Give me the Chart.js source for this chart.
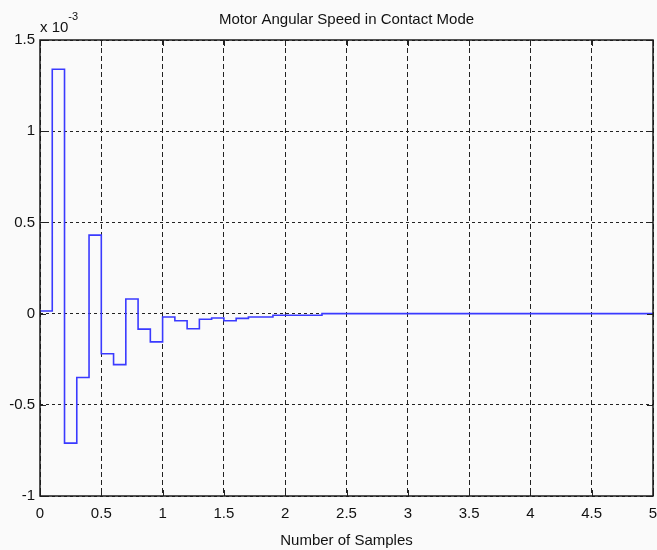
<!DOCTYPE html>
<html>
<head>
<meta charset="utf-8">
<title>Motor Angular Speed in Contact Mode</title>
<script src="https://cdn.jsdelivr.net/npm/chart.js@4.4.1/dist/chart.umd.min.js"></script>
<style>
  body { margin: 0; background: #fafafa; }
  #wrap { width: 657px; height: 550px; position: relative; }
</style>
</head>
<body>
<div id="wrap"><canvas id="myChart"></canvas></div>
<script>
// sample instants (s) and motor angular speed (x 10^-3), held as stairs
const sampleTimes = [0, 0.1, 0.2, 0.3, 0.4, 0.5, 0.6, 0.7, 0.8, 0.9,
                     1.0, 1.1, 1.2, 1.3, 1.4, 1.5, 1.6, 1.7, 1.8, 1.9,
                     2.0, 2.1, 2.2, 2.3, 5.0];
const angularSpeed = [0.014, 1.34, -0.71, -0.35, 0.43, -0.22, -0.28, 0.08, -0.085, -0.155,
                      -0.019, -0.039, -0.083, -0.031, -0.024, -0.039, -0.026, -0.019, -0.019, -0.009,
                      -0.009, -0.009, -0.009, 0, 0];
const xTicks = [0, 0.5, 1, 1.5, 2, 2.5, 3, 3.5, 4, 4.5, 5];
const yTicks = [-1, -0.5, 0, 0.5, 1, 1.5];

const fontFamily = '"Liberation Sans Narrow", "Arial Narrow", "Liberation Sans", Arial, sans-serif';
Chart.defaults.font.family = fontFamily;
Chart.defaults.font.size = 15;
Chart.defaults.color = '#111';

// box around the axes, inward tick marks and the exponent label
const matlabAxes = {
    id: 'matlabAxes',
    afterDraw(chart) {
        const ctx = chart.ctx;
        const a = chart.chartArea;
        const xs = chart.scales.x;
        const ys = chart.scales.y;
        ctx.save();
        ctx.strokeStyle = '#222';
        ctx.lineWidth = 1;
        ctx.beginPath();
        for (let v of xTicks) {
            let px = Math.round(xs.getPixelForValue(v)) + 0.5;
            ctx.moveTo(px, a.bottom); ctx.lineTo(px, a.bottom - 6);
            ctx.moveTo(px, a.top); ctx.lineTo(px, a.top + 6);
        }
        for (let v of yTicks) {
            let py = Math.round(ys.getPixelForValue(v)) + 0.5;
            ctx.moveTo(a.left, py); ctx.lineTo(a.left + 6, py);
            ctx.moveTo(a.right, py); ctx.lineTo(a.right - 6, py);
        }
        ctx.stroke();
        ctx.lineWidth = 1.5;
        ctx.strokeStyle = '#1a1a1a';
        ctx.strokeRect(a.left, a.top, a.right - a.left, a.bottom - a.top);

        ctx.fillStyle = '#111';
        ctx.textBaseline = 'alphabetic';
        ctx.textAlign = 'left';
        ctx.font = '15px ' + fontFamily;
        ctx.fillText('x 10', a.left, 32);
        let w = ctx.measureText('x 10').width;
        ctx.font = '11px ' + fontFamily;
        ctx.fillText('-3', a.left + w, 20);
        ctx.restore();
    }
};

const ctx = document.getElementById('myChart').getContext('2d');
const myChart = new Chart(ctx, {
    type: 'line',
    data: {
        datasets: [{
            data: sampleTimes.map((t, i) => ({ x: t, y: angularSpeed[i] })),
            stepped: 'before',
            borderColor: '#3a3aff',
            borderWidth: 1.6,
            pointRadius: 0,
            fill: false
        }]
    },
    options: {
        responsive: true,
        maintainAspectRatio: false,
        animation: false,
        layout: { padding: { left: 0, right: 4, top: 0, bottom: 0 } },
        plugins: {
            legend: { display: false },
            tooltip: { enabled: false },
            title: {
                display: true,
                fullSize: false,
                text: 'Motor Angular Speed in Contact Mode',
                color: '#111',
                font: { size: 15, weight: 'normal' },
                padding: { top: 11, bottom: 11 }
            }
        },
        scales: {
            x: {
                type: 'linear',
                min: 0,
                max: 5,
                afterBuildTicks: s => { s.ticks = xTicks.map(v => ({ value: v })); },
                afterFit: s => { s.height = 54; s.paddingLeft = 0; s.paddingRight = 0; },
                ticks: { padding: 9, maxRotation: 0, autoSkip: false, callback: v => String(v) },
                grid: { color: '#222', lineWidth: 1, drawTicks: false },
                border: { display: false, dash: [5, 3] },
                title: { display: true, text: 'Number of Samples', color: '#111',
                         font: { size: 15 }, padding: { top: 0, bottom: 0 } }
            },
            y: {
                min: -1,
                max: 1.5,
                afterBuildTicks: s => { s.ticks = yTicks.map(v => ({ value: v })); },
                afterFit: s => { s.width = 40; },
                ticks: { padding: 5, autoSkip: false, callback: v => String(v) },
                grid: { color: '#222', lineWidth: 1, drawTicks: false },
                border: { display: false, dash: [3, 3] }
            }
        }
    },
    plugins: [matlabAxes]
});
</script>
</body>
</html>
